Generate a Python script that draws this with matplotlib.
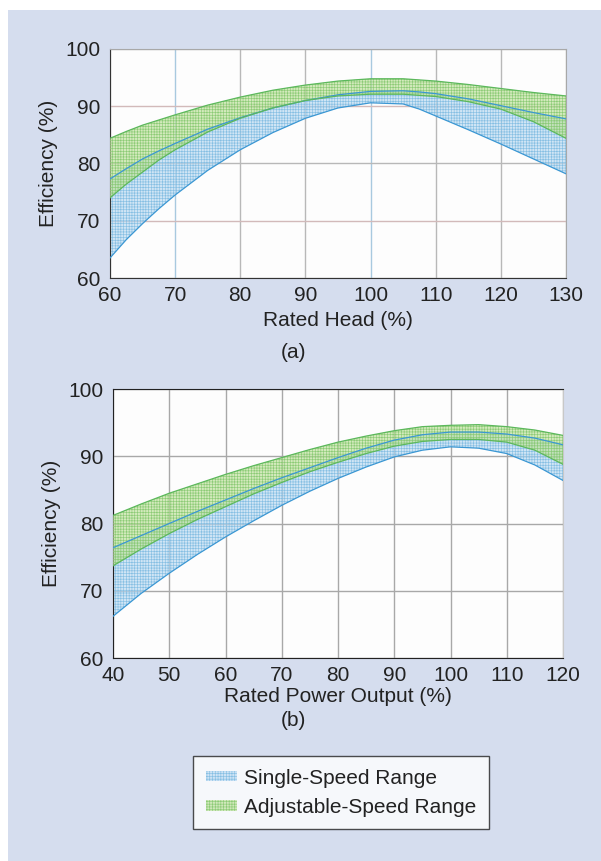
import numpy as np
import matplotlib.pyplot as plt
from matplotlib.patches import Patch, Rectangle

plt.rcParams['font.family'] = ['Liberation Sans', 'DejaVu Sans']
plt.rcParams['hatch.linewidth'] = 0.45

# ----- data (a): efficiency vs rated head -----
head_x = [60, 62.5, 65, 67.5, 70, 75, 80, 85, 90, 95, 100, 105, 107.5, 110, 115, 120, 125, 130]
head_single_hi = [77.3, 79.1, 80.8, 82.2, 83.5, 86.0, 88.0, 89.7, 91.0, 92.0, 92.6, 92.7, 92.5, 92.2, 91.3, 90.1, 88.9, 87.8]
head_single_lo = [63.5, 66.7, 69.5, 72.1, 74.5, 78.8, 82.4, 85.4, 87.9, 89.7, 90.6, 90.4, 89.5, 88.3, 85.9, 83.4, 80.8, 78.2]
head_adj_hi = [84.4, 85.6, 86.7, 87.6, 88.5, 90.2, 91.6, 92.8, 93.7, 94.4, 94.8, 94.8, 94.6, 94.4, 93.8, 93.1, 92.4, 91.8]
head_adj_lo = [74.0, 76.4, 78.5, 80.6, 82.4, 85.5, 87.9, 89.7, 91.0, 91.8, 92.1, 92.1, 91.9, 91.7, 90.8, 89.5, 87.3, 84.4]

# ----- data (b): efficiency vs rated power output -----
power_x = [40, 45, 50, 55, 60, 65, 70, 75, 80, 85, 90, 95, 100, 105, 110, 115, 120]
power_single_hi = [76.4, 78.2, 80.0, 81.8, 83.5, 85.2, 86.8, 88.3, 89.8, 91.2, 92.4, 93.2, 93.6, 93.6, 93.3, 92.7, 91.7]
power_single_lo = [66.2, 69.6, 72.6, 75.4, 78.0, 80.4, 82.7, 84.8, 86.7, 88.4, 89.9, 90.9, 91.4, 91.2, 90.4, 88.7, 86.4]
power_adj_hi = [81.2, 82.9, 84.5, 85.9, 87.3, 88.6, 89.8, 91.0, 92.1, 93.0, 93.8, 94.4, 94.6, 94.7, 94.4, 93.9, 93.1]
power_adj_lo = [73.7, 76.2, 78.5, 80.6, 82.5, 84.4, 86.1, 87.7, 89.1, 90.4, 91.5, 92.2, 92.5, 92.5, 92.1, 90.9, 88.8]

legend_labels = ['Single-Speed Range', 'Adjustable-Speed Range']

BG = '#d5ddee'
BLUE_FACE = (0.72, 0.85, 0.95, 0.65)
BLUE_HATCH = '#86bfe3'
BLUE_LINE = '#3b97d3'
GREEN_FACE = (0.74, 0.88, 0.60, 0.65)
GREEN_HATCH = '#8ccb76'
GREEN_LINE = '#5cb85c'
TXT = '#222222'

fig = plt.figure(figsize=(6.01, 8.61), dpi=100, facecolor='white')
fig.patches.append(Rectangle((8 / 601, 0), 1, 1 - 10 / 861, transform=fig.transFigure,
                             facecolor=BG, edgecolor='none', zorder=-10))


def draw_bands(ax, x, s_hi, s_lo, a_hi, a_lo):
    ax.fill_between(x, s_lo, s_hi, facecolor=BLUE_FACE, edgecolor=BLUE_HATCH,
                    hatch='++++++', linewidth=0, zorder=2)
    ax.fill_between(x, a_lo, a_hi, facecolor=GREEN_FACE, edgecolor=GREEN_HATCH,
                    hatch='++++++', linewidth=0, zorder=3)
    for y in (s_hi, s_lo):
        ax.plot(x, y, color=BLUE_LINE, lw=0.9, zorder=4)
    for y in (a_hi, a_lo):
        ax.plot(x, y, color=GREEN_LINE, lw=0.9, zorder=4)


def style_axes(ax, xticks, grid_color):
    ax.set_facecolor('#fdfdfd')
    ax.set_ylim(60, 100)
    ax.set_yticks([60, 70, 80, 90, 100])
    ax.set_xticks(xticks)
    ax.set_xlim(xticks[0], xticks[-1])
    ax.tick_params(length=0, labelsize=15, colors=TXT)
    ax.tick_params(axis='x', pad=6)
    ax.tick_params(axis='y', pad=7)
    ax.grid(True, color=grid_color, lw=1.0, zorder=1)
    ax.set_axisbelow(True)
    ax.set_ylabel('Efficiency (%)', fontsize=15, color=TXT, labelpad=5)


# ----- (a) -----
ax1 = fig.add_axes([110 / 601, 1 - 278 / 861, 456 / 601, 229 / 861])
draw_bands(ax1, head_x, head_single_hi, head_single_lo, head_adj_hi, head_adj_lo)
style_axes(ax1, [60, 70, 80, 90, 100, 110, 120, 130], '#b8b8b8')
for i, gl in enumerate(ax1.get_xgridlines()):
    if i in (1, 4):
        gl.set_color('#a8c9df')
for i, gl in enumerate(ax1.get_ygridlines()):
    if i in (1, 3):
        gl.set_color('#d2baba')
ax1.set_xlabel('Rated Head (%)', fontsize=15, color=TXT, labelpad=4)
for side in ('left', 'bottom'):
    ax1.spines[side].set_color('#333333')
for side in ('top', 'right'):
    ax1.spines[side].set_color('#a8a8a8')
fig.text(293 / 601, 1 - 352 / 861, '(a)', ha='center', va='center', fontsize=15, color=TXT)

# ----- (b) -----
ax2 = fig.add_axes([113 / 601, 1 - 658 / 861, 450 / 601, 269 / 861])
draw_bands(ax2, power_x, power_single_hi, power_single_lo, power_adj_hi, power_adj_lo)
style_axes(ax2, [40, 50, 60, 70, 80, 90, 100, 110, 120], '#a8a8a8')
ax2.set_xlabel('Rated Power Output (%)', fontsize=15, color=TXT, labelpad=1)
for side in ('left', 'bottom', 'top'):
    ax2.spines[side].set_color('#222222')
ax2.spines['right'].set_color('#c8c8c8')
fig.text(293 / 601, 1 - 720 / 861, '(b)', ha='center', va='center', fontsize=15, color=TXT)

# ----- legend -----
handles = [Patch(facecolor=BLUE_FACE, edgecolor=BLUE_HATCH, hatch='++++++', lw=0),
           Patch(facecolor=GREEN_FACE, edgecolor=GREEN_HATCH, hatch='++++++', lw=0)]
leg = fig.legend(handles, legend_labels, loc='upper left',
                 bbox_to_anchor=(193 / 601, 1 - 756 / 861), fontsize=15,
                 frameon=True, fancybox=False, edgecolor=TXT, borderaxespad=0,
                 handlelength=1.5, handleheight=0.4, handletextpad=0.35,
                 borderpad=0.6, labelspacing=0.5)
leg.get_frame().set_linewidth(1.0)
leg.get_frame().set_facecolor('white')
for t in leg.get_texts():
    t.set_color(TXT)

fig.savefig('out.png', dpi=100, facecolor=fig.get_facecolor())
